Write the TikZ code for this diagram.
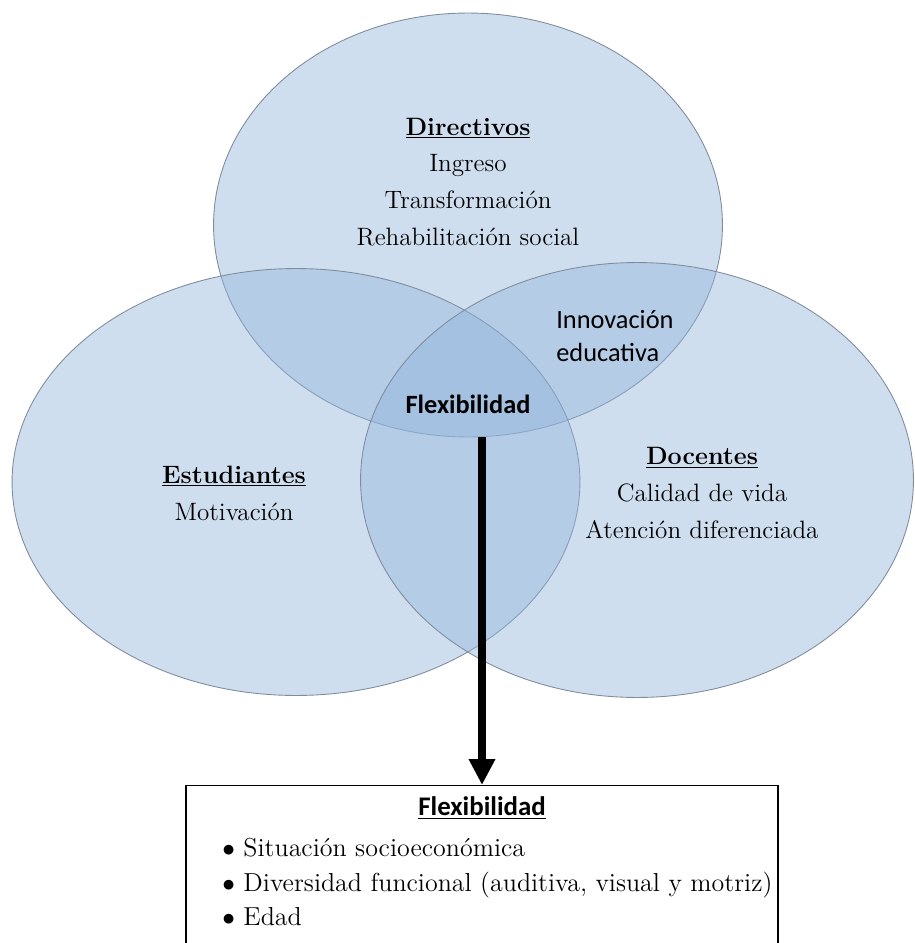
\documentclass[tikz,border=0pt]{standalone}
\usepackage{fontspec}
\newfontfamily\calibri{Carlito}
\usetikzlibrary{shapes.geometric,arrows.meta}
\definecolor{vennblue}{RGB}{146,180,219}
\definecolor{venndraw}{RGB}{128,140,156}

\begin{document}
\begin{tikzpicture}[x=0.02cm, y=-0.02cm]
\tikzset{venn/.style={ellipse, draw=venndraw, line width=0.5pt, fill=vennblue, fill opacity=0.44, inner sep=0pt}}
\tikzset{etiq/.style={align=center, inner sep=0pt, font=\fontsize{14.3}{21}\selectfont}}
\tikzset{sanslab/.style={align=left, inner sep=0pt, font=\calibri\fontsize{15}{19}\selectfont}}
\useasboundingbox (0,0) rectangle (914,943);
\clip (0,0) rectangle (914,943);
% les trois ensembles
\node[venn, minimum width=10.18cm, minimum height=8.48cm] (dir) at (468,225) {};
\node[venn, minimum width=11.36cm, minimum height=8.54cm] (est) at (296,482) {};
\node[venn, minimum width=11.06cm, minimum height=8.70cm] (doc) at (637,480) {};
% textes
\node[etiq] (tdir) at (468,182) {\underline{\textbf{Directivos}}\\ Ingreso\\ Transformación\\ Rehabilitación social};
\node[etiq] (test) at (234,493) {\underline{\textbf{Estudiantes}}\\ Motivación};
\node[etiq] (tdoc) at (702,493) {\underline{\textbf{Docentes}}\\ Calidad de vida\\ Atención diferenciada};
\node[sanslab, anchor=west] (innov) at (556,336) {Innovación\\ educativa};
\node[sanslab, font=\calibri\bfseries\fontsize{15}{19}\selectfont] (flex) at (468,404) {Flexibilidad};
% recuadro
\node[draw, line width=0.8pt, minimum width=11.84cm, minimum height=3.4cm, anchor=north, inner sep=0pt] (caja) at (482,785) {};
\node[font=\calibri\bfseries\fontsize{15.3}{19}\selectfont, inner sep=0pt] (tcaja) at (482,808) {\underline{Flexibilidad}};
\node[anchor=west, align=left, inner sep=0pt, font=\fontsize{14.8}{19.5}\selectfont] (lista) at (222,882) {$\bullet$ Situación socioeconómica\\ $\bullet$ Diversidad funcional (auditiva, visual y motriz)\\ $\bullet$ Edad};
\draw[line width=4.5pt, -{Triangle[width=0.5cm, length=0.52cm]}] (caja.north |- dir.south) -- (caja.north);
\end{tikzpicture}
\end{document}
